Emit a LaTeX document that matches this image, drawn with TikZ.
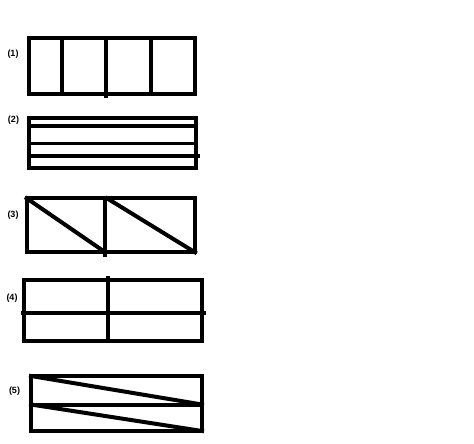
\documentclass[tikz,border=0pt]{standalone}
\usepackage{fontspec}
\setsansfont{Liberation Sans}
\usetikzlibrary{calc,positioning}
\tikzset{box/.style={line width=4pt, line cap=rect},
  lbl/.style={font=\sffamily\bfseries\fontsize{9}{10}\selectfont, inner sep=0pt}}

\begin{document}
\begin{tikzpicture}[x=1pt,y=-1pt]
\useasboundingbox (0,0) rectangle (474,444);
% (1) four columns
\node[lbl] (n1) at (13,54) {(1)};
\draw[box] (29,37.7) coordinate (A1) rectangle (195,94) coordinate (B1);
\draw[box] (62.3,37.7) -- (62.3,94);
\draw[box] (106,37.7) -- (106,96);
\draw[box] (151,37.7) -- (151,94);
% (2) four rows
\node[lbl] (n2) at (13.5,120) {(2)};
\draw[box] (29,117.7) coordinate (A2) rectangle (195.7,167.7) coordinate (B2);
\draw[box] (29,126) -- (195.7,126);
\draw[line width=3pt] (29,143) -- (195.7,143);
\draw[box] (29,156) -- (198,156);
% (3) two squares cut
\node[lbl] (n3) at (13,215.5) {(3)};
\draw[box] (26.7,198.3) coordinate (A3) rectangle (195,252.3) coordinate (B3);
\draw[box] (105.3,198.3) -- (105.3,255);
\draw[box] (A3) -- (105.3,252.3);
\draw[box] (107,198.3) -- (B3);
% (4) four quarters
\node[lbl] (n4) at (12,298) {(4)};
\draw[box] (24.3,280) coordinate (A4) rectangle (202.3,341) coordinate (B4);
\draw[box] (22.5,312.7) -- (203.5,312.7);
\draw[box] (108.3,277.5) -- (108.3,341);
% (5) slanted strips
\node[lbl] (n5) at (14.5,391.5) {(5)};
\draw[box] (31,376) coordinate (A5) rectangle (202,431) coordinate (B5);
\draw[box] (31,404.5) -- (202,404.5);
\draw[box] (A5) -- (202,404.5);
\draw[box] (31,404.5) -- (B5);
\end{tikzpicture}
\end{document}
